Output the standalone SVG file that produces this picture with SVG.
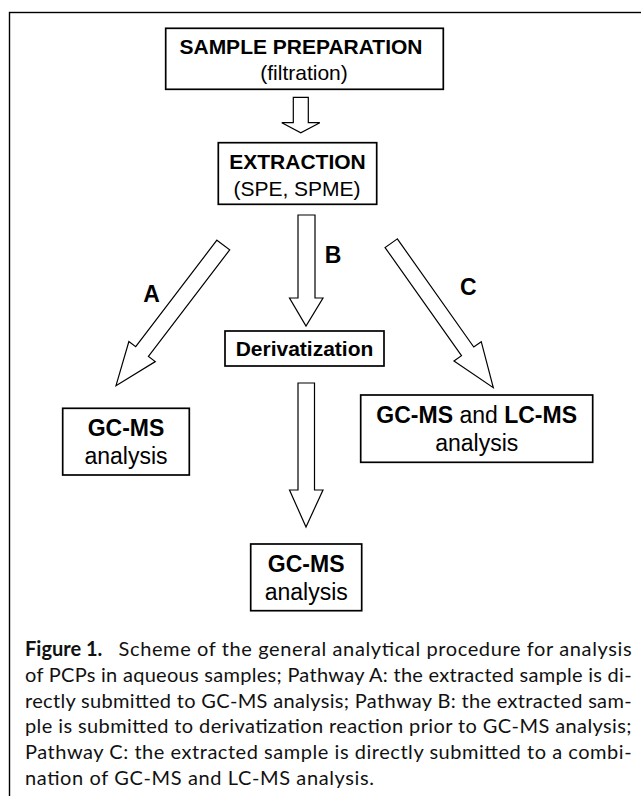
<svg xmlns="http://www.w3.org/2000/svg" width="641" height="796" viewBox="0 0 641 796">
<style>
.box{fill:#fff;stroke:#000;stroke-width:1.7}
.arr{fill:#fff;stroke:#000;stroke-width:1.2;stroke-linejoin:miter}
.t{font-family:"Liberation Sans",Arial,sans-serif;fill:#000;text-anchor:middle}
.b{font-weight:bold}
.s21{font-size:21px}
.s23{font-size:23px}
.cap{font-family:Lato,"Open Sans",sans-serif;font-size:20px;fill:#111}
</style>
<rect x="0" y="0" width="641" height="796" fill="#fff"/>
<rect x="9.5" y="12.5" width="700" height="820" fill="none" stroke="#000" stroke-width="1.4"/>

<g id="connectors">
<polygon class="arr" points="293.3,97.3 308.3,97.3 308.3,122.7 319.8,122.7 300.8,132.7 281.8,122.7 293.3,122.7"/>
<polygon class="arr" points="298,215 315,215 315,298 323,298 306,326 289.5,298 298,298"/>
<polygon class="arr" points="298,383 314.5,383 314.5,490 323,490 306,527 289.5,490 298,490"/>
<polygon class="arr" points="216.9,240.15 229.7,249.85 148.43,356.37 155.27,361.58 116,385.7 128.87,341.46 135.71,346.67"/>
<polygon class="arr" points="397.33,238.87 385.07,247.53 461.49,355.67 453.98,360.98 493.3,387.7 481.26,341.7 473.75,347.01"/>
<text class="t b s23" x="151.5" y="301.7">A</text>
<text class="t b s23" x="333" y="262.7">B</text>
<text class="t b s23" x="468.3" y="295">C</text>
</g>

<g id="sample-preparation">
<rect class="box" x="165.7" y="28.3" width="277.6" height="61"/>
<text class="t b s21" x="301" y="54">SAMPLE PREPARATION</text>
<text class="t s21" x="304" y="80">(filtration)</text>
</g>

<g id="extraction">
<rect class="box" x="218.3" y="142.7" width="158.4" height="61.6"/>
<text class="t b s21" x="297.5" y="169">EXTRACTION</text>
<text class="t s21" x="297" y="196">(SPE, SPME)</text>
</g>

<g id="derivatization">
<rect class="box" x="225" y="331" width="159" height="35"/>
<text class="t b s21" x="304.5" y="356">Derivatization</text>
</g>

<g id="gcms-a">
<rect class="box" x="62.7" y="408.3" width="126.6" height="66.7"/>
<text class="t b s23" x="126" y="436">GC-MS</text>
<text class="t s23" x="126" y="464">analysis</text>
</g>

<g id="gcms-b">
<rect class="box" x="250.7" y="544" width="111" height="66.7"/>
<text class="t b s23" x="306.2" y="572">GC-MS</text>
<text class="t s23" x="306.2" y="600">analysis</text>
</g>

<g id="gcms-lcms-c">
<rect class="box" x="360.7" y="395" width="232" height="67.3"/>
<text class="t s23" x="476.7" y="423"><tspan class="b">GC-MS</tspan> and <tspan class="b">LC-MS</tspan></text>
<text class="t s23" x="476.7" y="451">analysis</text>
</g>

<g id="caption">
<text class="cap" x="25" y="656" font-weight="bold">Figure 1.</text>
<text class="cap" x="118.6" y="656" textLength="513" lengthAdjust="spacing">Scheme of the general analytical procedure for analysis</text>
<text class="cap" x="25" y="681.8" textLength="606.6" lengthAdjust="spacing">of PCPs in aqueous samples; Pathway A: the extracted sample is di-</text>
<text class="cap" x="25" y="707.6" textLength="606.6" lengthAdjust="spacing">rectly submitted to GC-MS analysis; Pathway B: the extracted sam-</text>
<text class="cap" x="25" y="733.4" textLength="606.6" lengthAdjust="spacing">ple is submitted to derivatization reaction prior to GC-MS analysis;</text>
<text class="cap" x="25" y="759.2" textLength="606.6" lengthAdjust="spacing">Pathway C: the extracted sample is directly submitted to a combi-</text>
<text class="cap" x="25" y="785" textLength="349" lengthAdjust="spacing">nation of GC-MS and LC-MS analysis.</text>
</g>
</svg>
